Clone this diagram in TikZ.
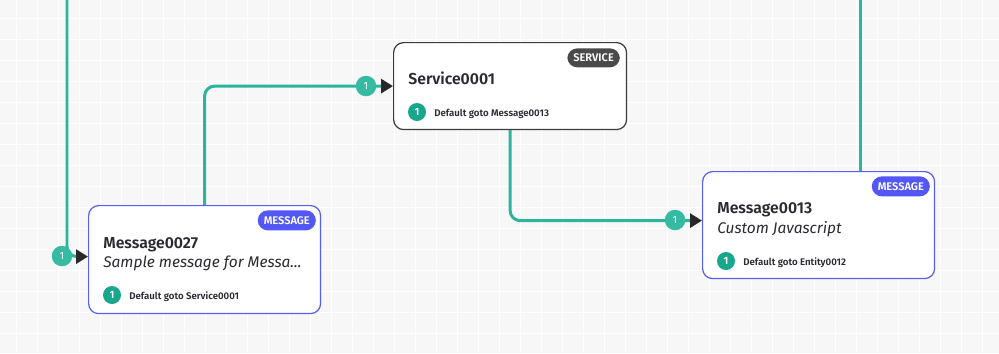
\documentclass[tikz,border=0pt]{standalone}
\usepackage{fontspec}
\setmainfont{Fira Sans}[BoldFont={Fira Sans SemiBold}]
\usepackage{xcolor}
\usetikzlibrary{arrows.meta, positioning}

\definecolor{bgcol}{RGB}{247,247,247}
\definecolor{linkteal}{RGB}{43,181,156}
\definecolor{portteal}{RGB}{54,186,161}
\definecolor{dotteal}{RGB}{24,166,140}
\definecolor{msgblue}{RGB}{88,94,240}
\definecolor{badgeblue}{RGB}{83,87,245}
\definecolor{svcgray}{RGB}{60,60,60}
\definecolor{badgegray}{RGB}{74,74,74}
\definecolor{ink}{RGB}{42,42,48}
\definecolor{tipdark}{RGB}{40,40,40}

\begin{document}
\begin{tikzpicture}[x=0.02cm, y=-0.02cm,
    gridline/.style={white, line width=0.7pt},
    msgbox/.style={draw=msgblue, line width=0.7pt, rounded corners=0.2cm, fill=white, anchor=north west, minimum width=4.64cm, inner sep=0pt},
    svcbox/.style={msgbox, draw=svcgray},
    badge/.style={rounded corners=0.2cm, text=white, font=\fontsize{6.3}{7}\selectfont\bfseries, minimum height=0.4cm, inner xsep=0.12cm, inner ysep=0pt},
    title/.style={anchor=base west, inner sep=0pt, text=ink, font=\fontsize{9}{10}\selectfont\bfseries},
    subtitle/.style={anchor=base west, inner sep=0pt, text=ink, font=\fontsize{8.8}{10}\selectfont\itshape},
    goto/.style={anchor=base west, inner sep=0pt, text=ink, font=\fontsize{5.5}{6}\selectfont\bfseries},
    dot/.style={circle, fill=dotteal, text=white, minimum size=0.36cm, inner sep=0pt, font=\fontsize{6}{7}\selectfont\bfseries},
    port/.style={circle, fill=portteal, text=white, minimum size=0.41cm, inner sep=0pt, font=\fontsize{6}{7}\selectfont},
    link/.style={linkteal, line width=1.7pt, rounded corners=0.2cm},
    arrow/.style={link, -{Triangle[length=0.24cm, width=0.28cm, color=tipdark]}},
]

% background with grid
\fill[bgcol] (0,0) rectangle (999,353);
\useasboundingbox (0,0) rectangle (999,353);
\foreach \gx in {0,...,47} {
    \draw[gridline] ({16.7+21*\gx},0) -- ++(0,353);
}
\foreach \gy in {0,...,16} {
    \draw[gridline] (0,{18.3+21*\gy}) -- ++(999,0);
}

% boxes
\node[msgbox, minimum height=2.16cm] (m27) at (88,205) {};
\node[svcbox, minimum width=4.66cm, minimum height=1.74cm] (svc) at (393,42) {};
\node[msgbox, minimum height=2.14cm] (m13) at (702,171) {};

% badges
\node[badge, fill=badgeblue, below left=0.1cm and 0.1cm of m27.north east] (b27) {MESSAGE};
\node[badge, fill=badgegray, below left=0.12cm and 0.14cm of svc.north east, minimum height=0.38cm] (bsvc) {SERVICE};
\node[badge, fill=badgeblue, below left=0.1cm and 0.1cm of m13.north east] (b13) {MESSAGE};

% texts
\node[title] (t27) at (103,248) {Message0027};
\node[subtitle] (s27) at (103,267) {Sample message for Messa...};
\node[dot] (d27) at (112,295) {1};
\node[goto] (g27) at (129,299) {Default goto Service0001};

\node[title] (tsvc) at (408,84) {Service0001};
\node[dot] (dsvc) at (417,112) {1};
\node[goto] (gsvc) at (434,116) {Default goto Message0013};

\node[title] (t13) at (717,213) {Message0013};
\node[subtitle] (s13) at (717,233) {Custom Javascript};
\node[dot] (d13) at (726,261) {1};
\node[goto] (g13) at (743,265) {Default goto Entity0012};

% connectors
\coordinate (top27) at (67,0);
\coordinate (top13) at (860,0);
\draw[arrow] (top27) |- ([yshift=0.06cm]m27.west);
\draw[arrow] (m27.north) |- (svc.west);
\draw[arrow] (svc.south) |- ([yshift=0.09cm]m13.west);
\draw[link] (m13.north -| top13) -- (top13);

% port numbers
\node[port] (p27) at (62,256) {1};
\node[port] (psvc) at (366,86) {1};
\node[port] (p13) at (675,220) {1};

\end{tikzpicture}
\end{document}
